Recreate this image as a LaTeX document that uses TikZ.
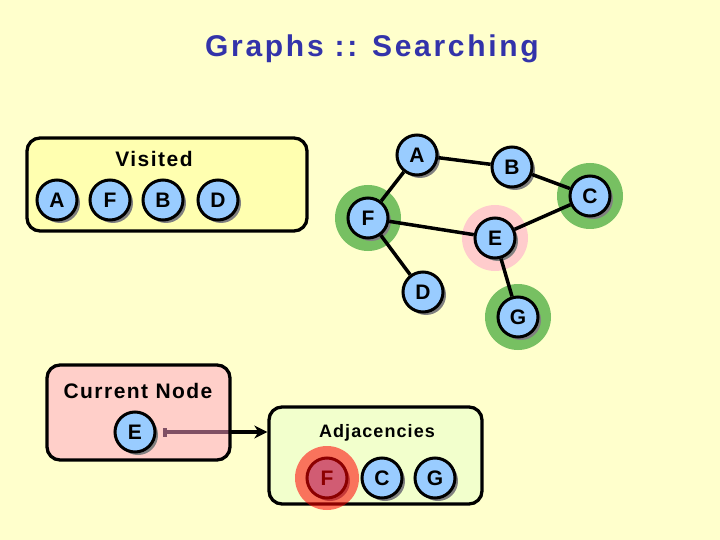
\documentclass[tikz,border=0pt]{standalone}
\usepackage{fontspec}
\setmainfont{Liberation Sans}
\newfontfamily\titlefont[LetterSpace=9]{Liberation Sans}
\newfontfamily\visfont[LetterSpace=7]{Liberation Sans}
\newfontfamily\curfont[LetterSpace=7]{Liberation Sans}
\newfontfamily\adjfont[LetterSpace=6]{Liberation Sans}
\usetikzlibrary{shadows,arrows.meta}
\definecolor{bg}{HTML}{FFFFCC}
\definecolor{titleblue}{HTML}{3333AA}
\definecolor{nodeblue}{HTML}{99CCFF}
\definecolor{visfill}{HTML}{FFFFB0}
\definecolor{adjfill}{HTML}{F2FFCC}
\definecolor{curfill}{RGB}{255,160,200}
\definecolor{halogreen}{HTML}{77C062}
\definecolor{halopink}{HTML}{FFCCCC}
\definecolor{shadowgray}{HTML}{808080}
\begin{document}
\begin{tikzpicture}[x=1pt,y=-1pt,
  gnode/.style={circle, draw=black, line width=3pt, fill=nodeblue,
    minimum size=40pt, inner sep=0pt, font=\bfseries\fontsize{21}{24}\selectfont,
    drop shadow={shadow xshift=3pt, shadow yshift=-3pt, fill=shadowgray, opacity=1}},
  edge/.style={line width=3.5pt, black},
  box/.style={draw=black, line width=3.3pt, rounded corners=13pt, rectangle, inner sep=0pt},
  label/.style={anchor=base, inner sep=0pt}]
\fill[bg] (0,0) rectangle (720,540);
\useasboundingbox (0,0) rectangle (720,540);

% title
\node[label, text=titleblue, font=\titlefont\bfseries\fontsize{30}{36}\selectfont] (titletext) at (372,57) {Graphs :: Searching};

% visited box
\node[box, fill=visfill, minimum width=280pt, minimum height=93pt] (visbox) at (167,184.5) {};
\node[label, font=\visfont\bfseries\fontsize{21}{24}\selectfont] (vislabel) at (154,167) {Visited};
\node[gnode] (vA) at (57,200) {A};
\node[gnode] (vF) at (110,200) {F};
\node[gnode] (vB) at (163,200) {B};
\node[gnode] (vD) at (218,200) {D};

% graph coordinates
\coordinate (pA) at (417,155);
\coordinate (pB) at (512,167);
\coordinate (pC) at (590,196);
\coordinate (pF) at (368,218);
\coordinate (pE) at (495,238);
\coordinate (pD) at (423,292);
\coordinate (pG) at (518,317);
\fill[halogreen] (pF) circle (33);
\fill[halogreen] (pC) circle (33);
\fill[halogreen] (pG) circle (33);
\fill[halopink] (pE) circle (33);
\node[gnode] (A) at (pA) {A};
\node[gnode] (B) at (pB) {B};
\node[gnode] (C) at (pC) {C};
\node[gnode] (F) at (pF) {F};
\node[gnode] (E) at (pE) {E};
\node[gnode] (D) at (pD) {D};
\node[gnode] (G) at (pG) {G};
\draw[edge] (A) -- (B);
\draw[edge] (A) -- (F);
\draw[edge] (B) -- (C);
\draw[edge] (C) -- (E);
\draw[edge] (F) -- (E);
\draw[edge] (F) -- (D);
\draw[edge] (E) -- (G);

% adjacencies box
\node[box, fill=adjfill, minimum width=213pt, minimum height=97pt] (adjbox) at (375.5,455.5) {};
\node[label, font=\adjfont\bfseries\fontsize{18}{22}\selectfont] (adjlabel) at (377,437) {Adjacencies};

% current node arrow (under the translucent box)
\coordinate (arrstart) at (163,432);
\draw[line width=3.5pt, {Square[length=4pt,width=9pt]}-{Stealth[length=13pt,width=13pt,inset=4pt]}] (arrstart) -- (adjbox.west |- arrstart);

% current node box
\node[box, fill=curfill, fill opacity=0.5, minimum width=183pt, minimum height=95pt] (curbox) at (138.5,412.5) {};
\node[label, font=\curfont\bfseries\fontsize{21}{24}\selectfont] (curlabel) at (138,398) {Current Node};
\node[gnode] (cE) at (135,432) {E};

% adjacency nodes
\node[gnode] (aF) at (327,478) {F};
\node[gnode] (aC) at (382,478) {C};
\node[gnode] (aG) at (435,478) {G};
\fill[red, opacity=0.55] (aF) circle (32);
\end{tikzpicture}
\end{document}
